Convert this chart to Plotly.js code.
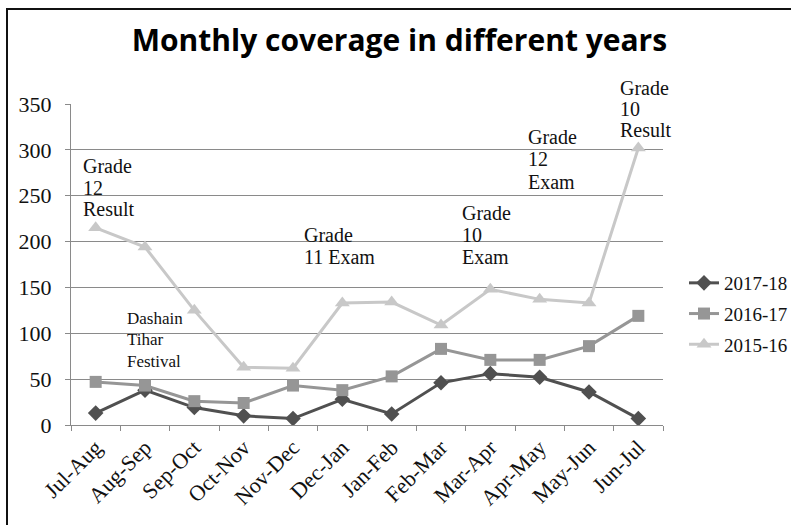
<!DOCTYPE html>
<html>
<head>
<meta charset="utf-8">
<script src="https://cdn.plot.ly/plotly-3.0.1.min.js"></script>
<style>
  html, body { margin: 0; padding: 0; background: #fff; }
  #wrap { position: relative; width: 791px; height: 525px; overflow: hidden; }
  #chart { width: 791px; height: 525px; }
  #frame { position: absolute; left: 6px; top: 8px; width: 900px; height: 700px;
           border-left: 2px solid #111; border-top: 2px solid #111; pointer-events: none; }
</style>
</head>
<body>
<div id="wrap"><div id="chart"></div><div id="frame"></div></div>
<script>
// ---- data ----
const months = ["Jul-Aug","Aug-Sep","Sep-Oct","Oct-Nov","Nov-Dec","Dec-Jan","Jan-Feb","Feb-Mar","Mar-Apr","Apr-May","May-Jun","Jun-Jul"];
const seriesNames = ["2017-18","2016-17","2015-16"];
const v2017_18 = [13, 38, 19, 10, 7, 28, 12, 46, 56, 52, 36, 7];
const v2016_17 = [47, 43, 26, 24, 43, 38, 53, 83, 71, 71, 86, 119];
const v2015_16 = [215, 194, 125, 63, 62, 133, 134, 109, 148, 137, 133, 302];
const yTicks = [0, 50, 100, 150, 200, 250, 300, 350];
const noteLines = [
  ["Grade","12","Result"],
  ["Grade","11 Exam"],
  ["Grade","10","Exam"],
  ["Grade","12","Exam"],
  ["Grade","10","Result"],
  ["Dashain","Tihar","Festival"]
];

// ---- layout geometry ----
const W = 791, H = 525;
const M = {l: 71, r: 128, t: 104, b: 100, autoexpand: false};
const plotW = W - M.l - M.r, plotH = H - M.t - M.b;
const yMax = 350;
const px2p = px => (px - M.l) / plotW;
const py2p = py => (M.t + plotH - py) / plotH;

// note blocks: left px, first line centre px, line step px, font size, white box [x0,x1,y0,y1]
const noteGeom = [
  {left: 82,  top: 166, step: 21.5, size: 20, box: [80, 142, 153, 221]},
  {left: 303, top: 235, step: 21.7, size: 20, box: [301, 380, 222, 267]},
  {left: 461, top: 213, step: 21.8, size: 20, box: [459, 522, 200, 268]},
  {left: 527, top: 137, step: 22.3, size: 20, box: [525, 589, 123, 193]},
  {left: 619, top: 88,  step: 21.0, size: 20, box: [617, 680, 74, 142]},
  {left: 126, top: 318, step: 21.7, size: 17, box: [124, 184, 305, 372]}
];

const serif = "Liberation Serif, DejaVu Serif, serif";
const gridCol = "#8a8a8a";

const styles = [
  {color: "#505050", symbol: "diamond", size: 12},
  {color: "#969696", symbol: "square", size: 12},
  {color: "#c8c8c8", symbol: "triangle-up", size: 13}
];
const values = [v2017_18, v2016_17, v2015_16];

const traces = values.map((v, i) => ({
  type: "scatter",
  mode: "lines+markers",
  x: months,
  y: v,
  name: seriesNames[i],
  legendgroup: "g" + i,
  line: {color: styles[i].color, width: 3},
  marker: {color: styles[i].color, symbol: styles[i].symbol, size: styles[i].size, line: {width: 0}},
  hoverinfo: "x+y+name"
}));

const annotations = [];
const shapes = [];
noteLines.forEach((lines, bi) => {
  const g = noteGeom[bi];
  shapes.push({
    type: "rect", layer: "between", xref: "paper", yref: "paper",
    x0: px2p(g.box[0]), x1: px2p(g.box[1]),
    y0: py2p(g.box[3]), y1: py2p(g.box[2]),
    fillcolor: "#ffffff", line: {width: 0}
  });
  lines.forEach((t, li) => {
    annotations.push({
      xref: "paper", yref: "paper",
      x: px2p(g.left), y: py2p(g.top + li * g.step),
      xanchor: "left", yanchor: "middle",
      text: t, showarrow: false, align: "left",
      font: {family: serif, size: g.size, color: "#111"},
      borderpad: 0
    });
  });
});

const layout = {
  width: W, height: H,
  margin: M,
  paper_bgcolor: "#ffffff", plot_bgcolor: "#ffffff",
  title: {
    text: "Monthly coverage in different years",
    font: {family: "Open Sans, Noto Sans, sans-serif", size: 30, color: "#000", weight: "bold"},
    xref: "container", x: 0.505, xanchor: "center",
    yref: "container", y: 1 - 40 / H, yanchor: "middle"
  },
  xaxis: {
    type: "category",
    tickangle: -45,
    tickson: "boundaries",
    ticks: "outside", ticklen: 5, tickcolor: gridCol, tickwidth: 1,
    showline: true, linecolor: gridCol, linewidth: 1,
    showgrid: false, zeroline: false,
    tickfont: {family: serif, size: 22, color: "#111"},
    range: [-0.5, months.length - 0.5]
  },
  yaxis: {
    range: [0, yMax],
    tickvals: yTicks, ticktext: yTicks.map(String),
    ticks: "outside", ticklen: 5, tickcolor: gridCol, tickwidth: 1,
    showline: true, linecolor: gridCol, linewidth: 1,
    showgrid: true, gridcolor: gridCol, gridwidth: 1,
    zeroline: false,
    ticklabelstandoff: 9,
    tickfont: {family: serif, size: 22, color: "#111"}
  },
  legend: {
    x: px2p(684), xanchor: "left",
    y: py2p(264), yanchor: "top",
    font: {family: serif, size: 19, color: "#111"},
    tracegroupgap: 3,
    bgcolor: "rgba(0,0,0,0)"
  },
  showlegend: true,
  annotations: annotations,
  shapes: shapes
};

Plotly.newPlot("chart", traces, layout, {displayModeBar: false, staticPlot: true});
</script>
</body>
</html>
